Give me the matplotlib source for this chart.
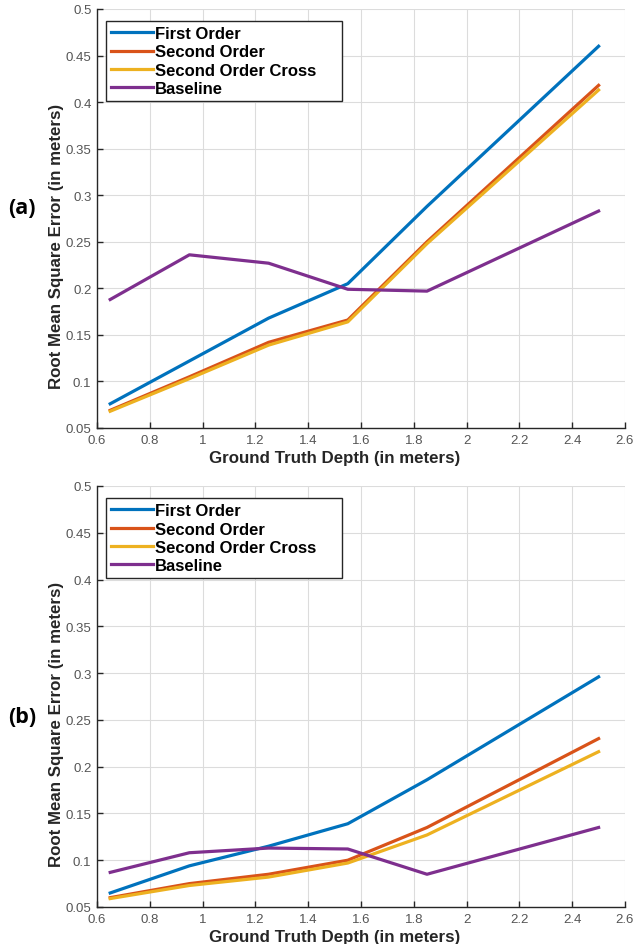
import matplotlib.pyplot as plt

# ====== DATA ======
DEPTH = [0.65, 0.95, 1.25, 1.55, 1.85, 2.5]

A_FIRST = [0.076, 0.122, 0.168, 0.205, 0.288, 0.460]
A_SECOND = [0.069, 0.105, 0.142, 0.166, 0.250, 0.418]
A_CROSS = [0.068, 0.103, 0.139, 0.164, 0.248, 0.413]
A_BASE = [0.188, 0.236, 0.227, 0.199, 0.197, 0.283]

B_FIRST = [0.065, 0.094, 0.115, 0.139, 0.186, 0.296]
B_SECOND = [0.060, 0.075, 0.085, 0.100, 0.135, 0.230]
B_CROSS = [0.059, 0.073, 0.082, 0.097, 0.127, 0.216]
B_BASE = [0.087, 0.108, 0.113, 0.112, 0.085, 0.135]

LABELS = ["First Order", "Second Order", "Second Order Cross", "Baseline"]
COLORS = ["#0072BD", "#D95319", "#EDB120", "#7E2F8E"]

XTICKS = [0.6, 0.8, 1, 1.2, 1.4, 1.6, 1.8, 2, 2.2, 2.4, 2.6]
YTICKS = [0.05, 0.1, 0.15, 0.2, 0.25, 0.3, 0.35, 0.4, 0.45, 0.5]

plt.rcParams['font.family'] = ['Liberation Sans', 'DejaVu Sans']


def draw_panel(ax, series):
    for vals, lab, col in zip(series, LABELS, COLORS):
        ax.plot(DEPTH, vals, color=col, lw=2.3, label=lab)
    ax.set_xlim(0.6, 2.6)
    ax.set_ylim(0.05, 0.5)
    ax.set_xticks(XTICKS)
    ax.set_xticklabels([f"{v:g}" for v in XTICKS])
    ax.set_yticks(YTICKS)
    ax.set_yticklabels([f"{v:g}" for v in YTICKS])
    ax.grid(True, color="#dcdcdc", lw=0.8)
    ax.set_axisbelow(True)
    for s in ("top", "right"):
        ax.spines[s].set_visible(False)
    for s in ("left", "bottom"):
        ax.spines[s].set_color("#262626")
        ax.spines[s].set_linewidth(1.0)
    ax.tick_params(direction="in", length=4, width=1, color="#262626",
                   labelsize=9.5, labelcolor="#555555", pad=4)
    ax.set_xlabel("Ground Truth Depth (in meters)", fontsize=12.2,
                  fontweight="bold", color="#262626")
    ax.set_ylabel("Root Mean Square Error (in meters)", fontsize=12.2,
                  fontweight="bold", color="#262626")
    ax.xaxis.set_label_coords(0.45, -0.052)
    ax.yaxis.set_label_coords(-0.062, 0.436)
    # legend stretched to MATLAB-like box width
    leg = ax.legend(loc="upper left", bbox_to_anchor=(0.017, 0.5, 0.447, 0.471),
                    mode="expand", prop={"weight": "bold", "size": 12},
                    handlelength=2.5, handletextpad=0.15, labelspacing=0.2,
                    borderpad=0.3, borderaxespad=0, fancybox=False,
                    framealpha=1)
    leg.get_frame().set_edgecolor("#262626")
    leg.get_frame().set_linewidth(1.0)


fig = plt.figure(figsize=(6.33, 9.45), dpi=100)
ax1 = fig.add_axes([97 / 633, 1 - 429 / 945, 528 / 633, 419 / 945])
ax2 = fig.add_axes([97 / 633, 1 - 908 / 945, 528 / 633, 421 / 945])

draw_panel(ax1, [A_FIRST, A_SECOND, A_CROSS, A_BASE])
draw_panel(ax2, [B_FIRST, B_SECOND, B_CROSS, B_BASE])

fig.text(8 / 633, 1 - 208 / 945, "(a)", fontsize=15.5, fontweight="bold",
         ha="left", va="center", family=["Open Sans", "DejaVu Sans"])
fig.text(8 / 633, 1 - 718 / 945, "(b)", fontsize=15.5, fontweight="bold",
         ha="left", va="center", family=["Open Sans", "DejaVu Sans"])

fig.savefig("out.png", dpi=100)
